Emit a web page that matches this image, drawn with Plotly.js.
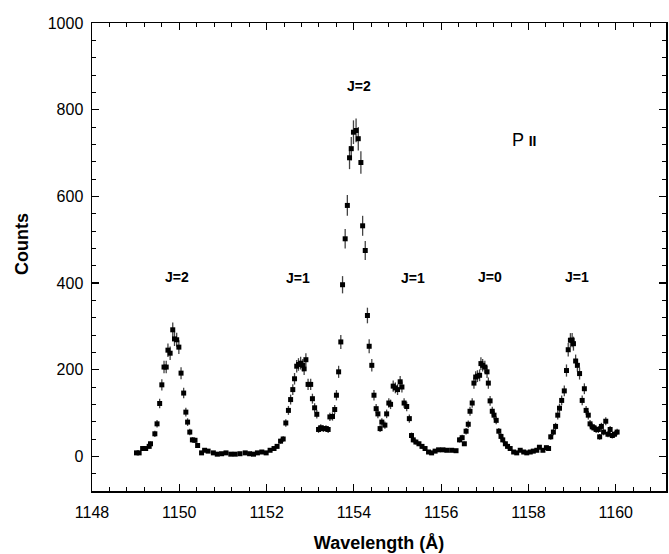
<!DOCTYPE html>
<html>
<head>
<meta charset="utf-8">
<script src="https://cdn.plot.ly/plotly-3.0.1.min.js"></script>
<style>html,body{margin:0;padding:0;background:#fff;}</style>
</head>
<body>
<div id="chart" style="width:669px;height:554px;"></div>
<script>
// Wavelength (Å) of each measured point
const wavelength = [
 1149.02,1149.08,1149.16,1149.23,1149.31,1149.34,1149.44,1149.49,1149.55,1149.60,
 1149.65,1149.70,1149.74,1149.79,1149.85,1149.89,1149.94,1149.99,1150.04,1150.10,
 1150.15,1150.19,1150.24,1150.30,1150.36,1150.42,1150.51,1150.58,1150.66,1150.78,
 1150.87,1150.97,1151.07,1151.18,1151.28,1151.39,1151.51,1151.61,1151.70,1151.79,
 1151.89,1151.99,1152.08,1152.17,1152.24,1152.32,1152.38,1152.44,1152.50,1152.55,
 1152.60,1152.64,1152.69,1152.73,1152.78,1152.83,1152.86,1152.90,1152.95,1153.01,
 1153.05,1153.10,1153.15,1153.19,1153.24,1153.30,1153.36,1153.41,1153.45,1153.51,
 1153.56,1153.60,1153.65,1153.70,1153.74,1153.80,1153.85,1153.90,1153.94,1153.99,
 1154.05,1154.10,1154.16,1154.20,1154.26,1154.31,1154.35,1154.41,1154.46,1154.51,
 1154.55,1154.60,1154.64,1154.71,1154.75,1154.80,1154.84,1154.90,1154.95,1155.00,
 1155.06,1155.10,1155.15,1155.21,1155.27,1155.32,1155.36,1155.42,1155.49,1155.56,
 1155.63,1155.71,1155.78,1155.86,1155.94,1156.04,1156.13,1156.24,1156.34,1156.42,
 1156.48,1156.53,1156.57,1156.62,1156.66,1156.71,1156.75,1156.79,1156.83,1156.88,
 1156.91,1156.95,1157.00,1157.05,1157.08,1157.12,1157.17,1157.21,1157.26,1157.32,
 1157.37,1157.41,1157.47,1157.52,1157.58,1157.66,1157.73,1157.81,1157.89,1157.96,
 1158.04,1158.11,1158.19,1158.25,1158.33,1158.41,1158.46,1158.51,1158.57,1158.62,
 1158.67,1158.71,1158.76,1158.82,1158.87,1158.91,1158.96,1159.00,1159.03,1159.08,
 1159.12,1159.17,1159.23,1159.28,1159.32,1159.37,1159.41,1159.46,1159.50,1159.55,
 1159.60,1159.63,1159.67,1159.72,1159.77,1159.82,1159.87,1159.92,1159.97,1160.03
];
// Counts at each wavelength
const counts = [
 8,8,18,18,23,29,52,75,122,165,
 206,206,245,238,292,271,269,252,192,146,
 102,79,56,38,37,25,8,14,12,8,
 5,6,8,5,5,6,8,6,5,8,
 10,8,14,18,23,35,40,77,106,131,
 154,179,208,212,215,210,202,223,166,166,
 133,112,97,62,66,64,64,62,91,92,
 108,141,195,264,396,502,579,689,710,748,
 752,733,678,532,475,325,254,210,141,110,
 98,64,79,72,98,123,120,162,158,154,
 172,160,123,115,87,48,38,33,29,23,
 18,10,8,12,15,15,14,14,13,38,
 43,29,58,74,104,123,169,183,185,187,
 214,210,206,195,169,128,104,95,83,58,
 46,38,29,23,18,10,8,14,10,8,
 10,12,14,21,14,20,18,45,56,69,
 95,111,129,151,198,246,268,268,260,220,
 210,191,129,156,106,95,75,68,66,62,
 62,45,69,56,81,51,62,48,51,56
];

// Tick values / labels
const xTickVals = [1148,1150,1152,1154,1156,1158,1160];
const xTickLabels = ['1148','1150','1152','1154','1156','1158','1160'];
const yTickVals = [0,200,400,600,800,1000];
const yTickLabels = ['0','200','400','600','800','1000'];

// Line labels
const lineLabels = ['J=2','J=1','J=2','J=1','J=0','J=1'];
const lineLabelX = [1149.95,1152.71,1154.12,1155.35,1157.11,1159.11];
const lineLabelY = [414,411,854,411,414,414];

const ionLabel = 'P <b><span style="font-size:14px">II</span></b>';
const ionLabelX = 1157.89, ionLabelY = 731;

const FONT = 'Liberation Sans, Arial, Helvetica, sans-serif';

const trace = {
  x: wavelength,
  y: counts,
  type: 'scatter',
  mode: 'markers',
  marker: {symbol: 'square', size: 5, color: '#000'},
  error_y: {type: 'sqrt', visible: true, color: '#444', thickness: 1.3, width: 0},
  showlegend: false,
  hoverinfo: 'x+y'
};

const annotations = lineLabels.map((t, i) => ({
  x: lineLabelX[i], y: lineLabelY[i], xref: 'x', yref: 'y',
  text: '<b>' + t + '</b>', showarrow: false,
  font: {family: FONT, size: 14, color: '#000'},
  xanchor: 'center', yanchor: 'middle'
}));
annotations.push({
  x: ionLabelX, y: ionLabelY, xref: 'x', yref: 'y',
  text: ionLabel, showarrow: false,
  font: {family: FONT, size: 18, color: '#000'},
  xanchor: 'center', yanchor: 'middle'
});
annotations.push({
  x: -0.121, y: 0.527, xref: 'paper', yref: 'paper',
  text: '<b>Counts</b>', showarrow: false, textangle: -90,
  font: {family: FONT, size: 18, color: '#000'},
  xanchor: 'center', yanchor: 'middle'
});

const axisCommon = {
  showgrid: false, zeroline: false,
  showline: true, linecolor: '#000', linewidth: 1.5,
  mirror: 'ticks', ticks: 'inside', ticklen: 7, tickwidth: 1.2, tickcolor: '#000',
  tickfont: {family: FONT, size: 16, color: '#000'}
};

const layout = {
  width: 669, height: 554,
  margin: {l: 92, r: 3, t: 23, b: 63, pad: 0},
  paper_bgcolor: '#fff', plot_bgcolor: '#fff',
  font: {family: FONT, color: '#000'},
  xaxis: Object.assign({}, axisCommon, {
    range: [1148, 1161.15],
    tickmode: 'array', tickvals: xTickVals, ticktext: xTickLabels,
    minor: {dtick: 0.4, tick0: 1148, ticks: 'inside', ticklen: 4, tickwidth: 1, tickcolor: '#000'},
    ticklabelstandoff: 6,
    title: {text: '<b>Wavelength (Å)</b>', font: {family: FONT, size: 18, color: '#000'}, standoff: 16}
  }),
  yaxis: Object.assign({}, axisCommon, {
    range: [-80, 1000],
    tickmode: 'array', tickvals: yTickVals, ticktext: yTickLabels,
    minor: {dtick: 40, tick0: 0, ticks: 'inside', ticklen: 4, tickwidth: 1, tickcolor: '#000'},
    ticklabelstandoff: 4
  }),
  annotations: annotations
};

Plotly.newPlot('chart', [trace], layout, {displayModeBar: false, staticPlot: true});
</script>
</body>
</html>
